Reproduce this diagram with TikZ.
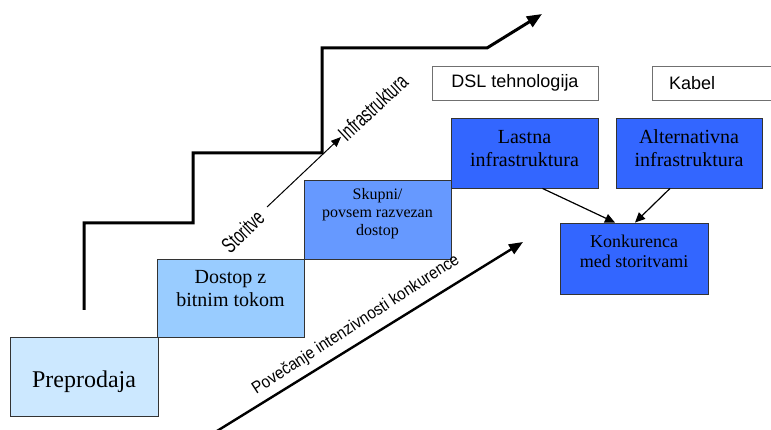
\documentclass[tikz,border=0pt]{standalone}
\usepackage{fontspec}
\setmainfont{Liberation Serif}
\newfontfamily\arialf{Liberation Sans}
\usetikzlibrary{arrows.meta}
\definecolor{cA}{HTML}{CCE8FF}
\definecolor{cB}{HTML}{99CCFF}
\definecolor{cC}{HTML}{6699FF}
\definecolor{cD}{HTML}{3366FF}
\definecolor{bord}{HTML}{333333}
\tikzset{
  stepbox/.style={draw=bord, line width=0.9pt, align=center, inner sep=0pt},
  techbox/.style={draw=bord!70, line width=0.9pt, fill=white, inner sep=0pt, minimum height=34pt},
  thin arrow/.style={line width=1.2pt, -{Triangle[length=10pt,width=9pt]}},
  slanted/.style={font=\arialf\fontsize{22}{24}\selectfont, inner sep=1pt, xscale=0.66},
}
\begin{document}
\begin{tikzpicture}[x=1pt,y=-1pt]
\useasboundingbox (0,0) rectangle (771,430);
% step boxes
\node[stepbox, fill=cA, minimum width=148pt, minimum height=79pt, text height=22pt, text depth=1pt, font=\fontsize{24}{28}\selectfont] (pre) at (84,376.5) {Preprodaja};
\node[stepbox, fill=cB, minimum width=147pt, minimum height=78pt, text height=38pt, text depth=20pt, font=\fontsize{20}{24}\selectfont] (dost) at (230.5,298) {Dostop z\\bitnim tokom};
\node[stepbox, fill=cC, minimum width=147pt, minimum height=79pt, text height=48pt, text depth=15pt, font=\fontsize{16}{18}\selectfont] (skup) at (377.5,219.5) {Skupni/\\povsem razvezan\\dostop};
\node[stepbox, fill=cD, minimum width=147pt, minimum height=70pt, text height=38pt, text depth=10pt, font=\fontsize{20}{23}\selectfont] (last) at (524.5,153) {Lastna\\infrastruktura};
\node[stepbox, fill=cD, minimum width=146pt, minimum height=70pt, text height=38pt, text depth=10pt, font=\fontsize{20}{23}\selectfont] (alt) at (689,153) {Alternativna\\infrastruktura};
\node[stepbox, fill=cD, minimum width=148pt, minimum height=71pt, text height=32pt, text depth=13pt, font=\fontsize{18}{20}\selectfont] (konk) at (634,258.5) {Konkurenca\\med storitvami};
% technology boxes
\node[techbox, minimum width=166pt, font=\arialf\fontsize{18}{20}\selectfont] (dsl) at (515,83) {DSL tehnologija};
\node[techbox, minimum width=138pt, font=\arialf\fontsize{18}{20}\selectfont, text width=104pt, align=left] (kab) at (721,83) {Kabel};
% arrows to Konkurenca
\draw[thin arrow] ([xshift=18pt]last.south) -- ([xshift=-19pt]konk.north);
\draw[thin arrow] ([xshift=-19pt]alt.south) -- ([xshift=1pt]konk.north);
% staircase
\coordinate (s0) at (84,310);
\coordinate (s1) at (542,14);
\draw[line width=3pt, line join=miter, -{Triangle[length=15pt,width=12pt]}] (s0) -- (84,223) -- (193,223) -- (193,153) -- (322,153) -- (322,48) -- (487,48) -- (s1);
% Storitve -> Infrastruktura
\coordinate (st0) at (267,207);
\coordinate (st1) at (341,137);
\draw[line width=1pt, -{Triangle[length=10pt,width=8pt]}] (st0) -- (st1);
\node[rotate=44, anchor=east, slanted] (stor) at (261,214) {Storitve};
\node[rotate=43, anchor=west, slanted] (infra) at (341,137) {Infrastruktura};
% competition arrow
\coordinate (pv0) at (217,431);
\coordinate (pv1) at (523,242);
\draw[line width=2.4pt, -{Triangle[length=14pt,width=11pt]}] (pv0) -- (pv1);
\node[font=\arialf\fontsize{17}{20}\selectfont, rotate=33, xscale=0.9, inner sep=0pt] (pov) at (356,325) {Povečanje intenzivnosti konkurence};
\end{tikzpicture}
\end{document}
